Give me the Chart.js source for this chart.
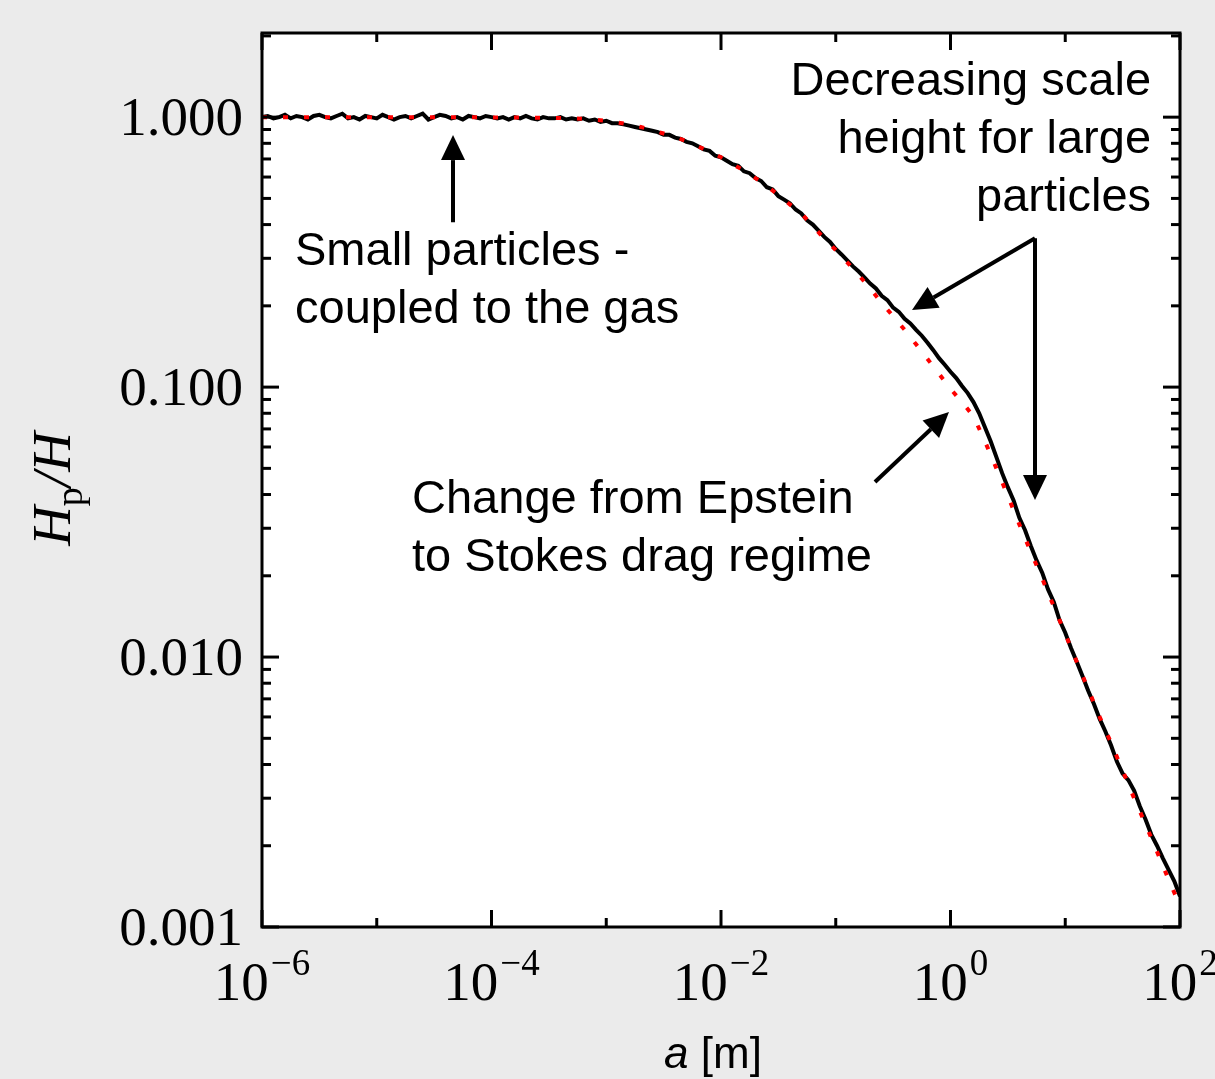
<!DOCTYPE html>
<html>
<head>
<meta charset="utf-8">
<title>Hp/H frente a a</title>
<script src="https://cdn.jsdelivr.net/npm/chart.js"></script>
<style>
  html, body { margin: 0; padding: 0; background: #ebebeb; }
  #wrap { width: 1215px; height: 1079px; }
</style>
</head>
<body>
<div id="wrap"><canvas id="grafico" width="1215" height="1079"></canvas></div>
<script>
// simulacion (linea negra): log10(a) y Hp/H
const simLogA = [
  -6.00, -5.95, -5.90, -5.85, -5.80, -5.75, -5.70, -5.65, -5.60, -5.55,
  -5.50, -5.45, -5.40, -5.35, -5.30, -5.25, -5.20, -5.15, -5.10, -5.05,
  -5.00, -4.95, -4.90, -4.85, -4.80, -4.75, -4.70, -4.65, -4.60, -4.55,
  -4.50, -4.45, -4.40, -4.35, -4.30, -4.25, -4.20, -4.15, -4.10, -4.05,
  -4.00, -3.95, -3.90, -3.85, -3.80, -3.75, -3.70, -3.65, -3.60, -3.55,
  -3.50, -3.45, -3.40, -3.35, -3.30, -3.25, -3.20, -3.15, -3.10, -3.05,
  -3.00, -2.95, -2.90, -2.85, -2.80, -2.75, -2.70, -2.65, -2.60, -2.55,
  -2.50, -2.45, -2.40, -2.35, -2.30, -2.25, -2.20, -2.15, -2.10, -2.05,
  -2.00, -1.95, -1.90, -1.85, -1.80, -1.75, -1.70, -1.65, -1.60, -1.55,
  -1.50, -1.45, -1.40, -1.35, -1.30, -1.25, -1.20, -1.15, -1.10, -1.05,
  -1.00, -0.95, -0.90, -0.85, -0.80, -0.75, -0.70, -0.65, -0.60, -0.55,
  -0.50, -0.45, -0.40, -0.35, -0.30, -0.25, -0.20, -0.15, -0.10, -0.05,
   0.00,  0.05,  0.10,  0.15,  0.20,  0.25,  0.30,  0.35,  0.40,  0.45,
   0.50,  0.55,  0.60,  0.65,  0.70,  0.75,  0.80,  0.85,  0.90,  0.95,
   1.00,  1.05,  1.10,  1.15,  1.20,  1.25,  1.30,  1.35,  1.40,  1.45,
   1.50,  1.55,  1.60,  1.65,  1.70,  1.75,  1.80,  1.85,  1.90,  1.95,
   2.00
];
const simHp = [
  1.00, 1.01, 0.99, 1.00, 1.02, 0.99, 1.01, 1.00, 0.98, 1.01,
  1.02, 1.00, 0.99, 1.01, 1.03, 0.99, 1.00, 0.98, 1.01, 1.00,
  0.99, 1.02, 1.00, 0.98, 1.00, 1.01, 0.99, 1.01, 1.03, 0.98,
  1.00, 1.02, 1.01, 0.99, 1.00, 0.98, 1.01, 1.00, 0.99, 1.01,
  1.00, 0.99, 1.00, 0.98, 1.00, 0.99, 1.01, 0.99, 0.98, 1.00,
  0.99, 0.99, 1.00, 0.98, 0.99, 0.98, 0.99, 0.97, 0.98, 0.96,
  0.97, 0.95, 0.95, 0.94, 0.93, 0.92, 0.91, 0.90, 0.89, 0.88,
  0.86, 0.86, 0.84, 0.83, 0.81, 0.80, 0.78, 0.76, 0.75, 0.72,
  0.71, 0.69, 0.67, 0.66, 0.63, 0.62, 0.595, 0.58, 0.55, 0.54,
  0.51, 0.495, 0.48, 0.455, 0.44, 0.415, 0.40, 0.38, 0.36, 0.345,
  0.325, 0.31, 0.295, 0.28, 0.268, 0.255, 0.242, 0.232, 0.218, 0.21,
  0.197, 0.19, 0.179, 0.172, 0.163, 0.155, 0.146, 0.137, 0.128, 0.121,
  0.114, 0.108, 0.101, 0.095, 0.088, 0.080, 0.071, 0.063, 0.055, 0.048,
  0.0425, 0.038, 0.0328, 0.0295, 0.0258, 0.0228, 0.0205, 0.0178, 0.0160, 0.0137,
  0.0123, 0.0108, 0.0096, 0.0085, 0.0075, 0.0067, 0.0059, 0.0053, 0.0047, 0.0041,
  0.0037, 0.0035, 0.0032, 0.0028, 0.0025, 0.0022, 0.0020, 0.0018, 0.00163, 0.00148,
  0.0013
];

// curva teorica (punteada roja)
const teoLogA = [
  -6.0, -5.5, -5.0, -4.5, -4.0, -3.5, -3.4, -3.3, -3.2, -3.1,
  -3.0, -2.9, -2.8, -2.7, -2.6, -2.5, -2.4, -2.3, -2.2, -2.1,
  -2.0, -1.9, -1.8, -1.7, -1.6, -1.5, -1.4, -1.3, -1.2, -1.1,
  -1.0, -0.9, -0.8, -0.7, -0.6, -0.5, -0.4, -0.3, -0.2, -0.1,
   0.0,  0.1,  0.2,  0.3,  0.4,  0.5,  0.6,  0.7,  0.8,  0.9,
   1.0,  1.1,  1.2,  1.3,  1.4,  1.5,  1.6,  1.7,  1.8,  1.9,
   2.0
];
const teoHp = [
  1.0, 1.0, 1.0, 1.0, 0.998, 0.995, 0.993, 0.99, 0.985, 0.978,
  0.97, 0.955, 0.94, 0.92, 0.895, 0.87, 0.845, 0.815, 0.78, 0.745,
  0.71, 0.67, 0.635, 0.595, 0.555, 0.515, 0.475, 0.44, 0.395, 0.355,
  0.322, 0.29, 0.26, 0.232, 0.205, 0.183, 0.163, 0.144, 0.127, 0.112,
  0.0985, 0.088, 0.078, 0.063, 0.05, 0.0395, 0.031, 0.0245, 0.0195, 0.0154,
  0.0122, 0.0096, 0.0076, 0.006, 0.0048, 0.0038, 0.003, 0.0024, 0.0019, 0.0015,
  0.0012
];

// ejes
const xDecadas = [1e-6, 1e-5, 1e-4, 1e-3, 1e-2, 1e-1, 1, 10, 100];
const xEtiquetas = [1e-6, 1e-4, 1e-2, 1, 100];
const xExponentes = ['\u22126', '\u22124', '\u22122', '0', '2'];
const yDecadas = [0.001, 0.01, 0.1, 1];
const yEtiquetas = ['0.001', '0.010', '0.100', '1.000'];

// anotaciones en coordenadas de datos [a, Hp/H]
const flechas = [
  { desde: [4.62e-5, 0.408], hasta: [4.62e-5, 0.858] },
  { desde: [5.45, 0.356], hasta: [0.462, 0.193] },
  { desde: [5.45, 0.356], hasta: [5.45, 0.0382] },
  { desde: [0.2198, 0.0445], hasta: [0.970, 0.0808] }
];
const textos = [
  { en: [1.94e-6, 0.283], align: 'left', lineas: ['Small particles -', 'coupled to the gas'] },
  { en: [55.9, 1.206], align: 'right', lineas: ['Decreasing scale', 'height for large', 'particles'] },
  { en: [2.03e-5, 0.0341], align: 'left', lineas: ['Change from Epstein', 'to Stokes drag regime'] }
];

const simData = simLogA.map((l, i) => ({ x: Math.pow(10, l), y: simHp[i] }));
const teoData = teoLogA.map((l, i) => ({ x: Math.pow(10, l), y: teoHp[i] }));

const SERIF = '"Liberation Serif", "Times New Roman", serif';
const SANS = '"Liberation Sans", Arial, sans-serif';

const fondoPlugin = {
  id: 'fondo',
  beforeDatasetsDraw(chart) {
    const { ctx, chartArea: ca } = chart;
    ctx.save();
    ctx.fillStyle = '#ffffff';
    ctx.fillRect(ca.left, ca.top, ca.right - ca.left, ca.bottom - ca.top);
    ctx.restore();
  }
};

function linea(ctx, x1, y1, x2, y2) {
  ctx.beginPath();
  ctx.moveTo(x1, y1);
  ctx.lineTo(x2, y2);
  ctx.stroke();
}

const marcoPlugin = {
  id: 'marco',
  afterDatasetsDraw(chart) {
    const { ctx, chartArea: ca, scales: { x, y } } = chart;
    ctx.save();
    ctx.strokeStyle = '#000';
    ctx.lineWidth = 3;
    ctx.lineCap = 'butt';
    ctx.strokeRect(ca.left, ca.top, ca.right - ca.left, ca.bottom - ca.top);

    xDecadas.forEach((v, i) => {
      const px = x.getPixelForValue(v);
      const len = i % 2 === 0 ? 17 : 9;
      linea(ctx, px, ca.bottom, px, ca.bottom - len);
      linea(ctx, px, ca.top, px, ca.top + len);
    });

    yDecadas.forEach(d => {
      for (let k = 1; k <= 9; k++) {
        const v = d * k;
        if (v > y.max) break;
        const py = y.getPixelForValue(v);
        const len = k === 1 ? 17 : 9;
        linea(ctx, ca.left, py, ca.left + len, py);
        linea(ctx, ca.right, py, ca.right - len, py);
      }
    });

    // flechas
    ctx.lineWidth = 4;
    ctx.fillStyle = '#000';
    flechas.forEach(f => {
      const x1 = x.getPixelForValue(f.desde[0]), y1 = y.getPixelForValue(f.desde[1]);
      const x2 = x.getPixelForValue(f.hasta[0]), y2 = y.getPixelForValue(f.hasta[1]);
      const ang = Math.atan2(y2 - y1, x2 - x1);
      const largo = 25, ancho = 12;
      const bx = x2 - largo * Math.cos(ang), by = y2 - largo * Math.sin(ang);
      linea(ctx, x1, y1, bx, by);
      ctx.beginPath();
      ctx.moveTo(x2, y2);
      ctx.lineTo(bx + ancho * Math.sin(ang), by - ancho * Math.cos(ang));
      ctx.lineTo(bx - ancho * Math.sin(ang), by + ancho * Math.cos(ang));
      ctx.closePath();
      ctx.fill();
    });

    // textos
    ctx.font = '47px ' + SANS;
    ctx.textBaseline = 'alphabetic';
    textos.forEach(t => {
      const px = x.getPixelForValue(t.en[0]), py = y.getPixelForValue(t.en[1]);
      ctx.textAlign = t.align;
      t.lineas.forEach((s, j) => ctx.fillText(s, px, py + j * 58));
    });
    ctx.restore();
  },
  afterDraw(chart) {
    const { ctx, chartArea: ca, scales: { x, y } } = chart;
    ctx.save();
    ctx.fillStyle = '#000';
    ctx.textBaseline = 'alphabetic';

    // etiquetas del eje y
    ctx.textAlign = 'right';
    ctx.font = '55px ' + SERIF;
    yDecadas.forEach((v, i) => {
      ctx.fillText(yEtiquetas[i], ca.left - 19, y.getPixelForValue(v) + 18);
    });

    // etiquetas del eje x con exponente
    ctx.textAlign = 'left';
    xEtiquetas.forEach((v, i) => {
      const px = x.getPixelForValue(v);
      ctx.font = '55px ' + SERIF;
      const w1 = ctx.measureText('10').width;
      ctx.font = '37px ' + SERIF;
      const w2 = ctx.measureText(xExponentes[i]).width;
      const x0 = px - (w1 + 2 + w2) / 2;
      ctx.font = '55px ' + SERIF;
      ctx.fillText('10', x0, ca.bottom + 73);
      ctx.font = '37px ' + SERIF;
      ctx.fillText(xExponentes[i], x0 + w1 + 2, ca.bottom + 48);
    });

    // titulo eje x: a [m]
    ctx.font = 'italic 44px ' + SANS;
    const wa = ctx.measureText('a').width;
    ctx.font = '44px ' + SANS;
    const wm = ctx.measureText(' [m]').width;
    const cx = (ca.left + ca.right) / 2 - 8;
    const xa = cx - (wa + wm) / 2;
    ctx.font = 'italic 44px ' + SANS;
    ctx.fillText('a', xa, ca.bottom + 141);
    ctx.font = '44px ' + SANS;
    ctx.fillText(' [m]', xa + wa, ca.bottom + 141);

    // titulo eje y: Hp/H
    ctx.translate(70, (ca.top + ca.bottom) / 2 + 9);
    ctx.rotate(-Math.PI / 2);
    ctx.font = 'italic 55px ' + SERIF;
    const wH = ctx.measureText('H').width;
    const wBarra = ctx.measureText('/H').width;
    ctx.font = '38px ' + SERIF;
    const wp = ctx.measureText('p').width;
    let xx = -(wH + wp + wBarra) / 2;
    ctx.font = 'italic 55px ' + SERIF;
    ctx.fillText('H', xx, 0);
    xx += wH;
    ctx.font = '38px ' + SERIF;
    ctx.fillText('p', xx, 12);
    xx += wp;
    ctx.font = 'italic 55px ' + SERIF;
    ctx.fillText('/H', xx, 0);
    ctx.restore();
  }
};

const config = {
  type: 'line',
  data: {
    datasets: [
      {
        label: 'Teoria',
        data: teoData,
        borderColor: '#ff0000',
        borderWidth: 4,
        borderDash: [5, 16],
        borderCapStyle: 'butt',
        pointRadius: 0,
        tension: 0,
        fill: false
      },
      {
        label: 'Simulacion',
        data: simData,
        borderColor: '#000000',
        borderWidth: 4,
        pointRadius: 0,
        tension: 0,
        fill: false
      }
    ]
  },
  options: {
    responsive: false,
    devicePixelRatio: 1,
    animation: false,
    events: [],
    layout: { padding: { top: 33, right: 35, left: 0, bottom: 0 } },
    plugins: { legend: { display: false }, tooltip: { enabled: false } },
    scales: {
      x: {
        type: 'logarithmic',
        min: 1e-6,
        max: 100,
        grid: { display: false, drawTicks: false },
        border: { display: false },
        ticks: { display: false },
        afterFit: s => { s.height = 152; }
      },
      y: {
        type: 'logarithmic',
        min: 0.001,
        max: 2.05,
        grid: { display: false, drawTicks: false },
        border: { display: false },
        ticks: { display: false },
        afterFit: s => { s.width = 262; }
      }
    }
  },
  plugins: [fondoPlugin, marcoPlugin]
};

new Chart(document.getElementById('grafico').getContext('2d'), config);
</script>
</body>
</html>
